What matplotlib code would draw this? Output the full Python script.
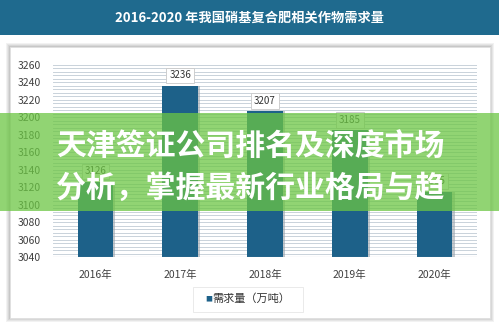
import matplotlib
matplotlib.use("Agg")
import matplotlib.pyplot as plt
from matplotlib.patches import Rectangle
import numpy as np

plt.rcParams['font.family'] = ['Noto Sans CJK SC', 'DejaVu Sans']

# data
years = ["2016年", "2017年", "2018年", "2019年", "2020年"]
demand = [3126, 3236, 3207, 3185, 3115]
yticks = [3040, 3060, 3080, 3100, 3120, 3140, 3160, 3180, 3200, 3220, 3240, 3260]
title = "2016-2020 年我国硝基复合肥相关作物需求量"
legend_label = "需求量（万吨）"
banner_lines = ["天津签证公司排名及深度市场", "分析，掌握最新行业格局与趋"]

BAR = "#1d6189"
W, H = 499, 324

fig = plt.figure(figsize=(W / 100, H / 100), dpi=100)
fig.patch.set_facecolor("white")

def fx(px):
    return px / W

def fy(py):
    return 1 - py / H

# title banner
fig.patches.append(Rectangle((0, fy(35)), 1, fy(0) - fy(35), transform=fig.transFigure,
                             facecolor="#1f6a8e", edgecolor="none", zorder=0))
fig.text(0.5, fy(18), title, color="white", fontsize=9.5, fontweight="bold",
         ha="center", va="center")

# card with soft shadow
for i, a in enumerate([0.05, 0.05, 0.06, 0.07]):
    d = 4 - i
    fig.patches.append(Rectangle((fx(10 - d), fy(318 + d)), fx(480 + 2 * d), fy(47 - d) - fy(318 + d),
                                 transform=fig.transFigure, facecolor="black", alpha=a,
                                 edgecolor="none", zorder=0.5))
fig.patches.append(Rectangle((fx(10), fy(318)), fx(480), fy(47) - fy(318), transform=fig.transFigure,
                             facecolor="white", edgecolor="#e0e0e0", lw=0.6, zorder=0.6))

ax = fig.add_axes([fx(53), fy(257), fx(477 - 53), fy(65) - fy(257)])
ax.set_facecolor("none")
ax.set_zorder(1)

x = np.arange(len(years))
# dense striped gridlines
for v in np.arange(3040, 3261, 4):
    ax.axhline(v, color="#c9d2da", lw=0.7, zorder=0)

# bar shadow
ax.bar(x + 0.025, [d - 3040 for d in demand], bottom=3040, width=0.42,
       color="#9aa4ad", alpha=0.6, zorder=1)
ax.bar(x, [d - 3040 for d in demand], bottom=3040, width=0.42, color=BAR,
       zorder=2, label=legend_label)

for xi, d in zip(x, demand):
    ax.text(xi, d + 12, str(d), ha="center", va="center", fontsize=7, color="#333333",
            zorder=3, bbox=dict(boxstyle="square,pad=0.3", facecolor="white",
                                edgecolor="#c8c8c8", lw=0.6))

ax.set_xlim(-0.5, len(years) - 0.5)
ax.set_ylim(3040, 3260)
ax.set_yticks(yticks)
ax.set_xticks(x)
ax.set_xticklabels(years)
ax.tick_params(axis="y", length=0, labelsize=7.5, labelcolor="#404040", pad=9)
ax.tick_params(axis="x", length=0, labelsize=7.5, labelcolor="#404040", pad=9)
for s in ax.spines.values():
    s.set_visible(False)
ax.axhline(3040, color="#a8b0b8", lw=0.8, zorder=2)

# legend box
fig.patches.append(Rectangle((fx(193), fy(312)), fx(110), fy(287) - fy(312), transform=fig.transFigure,
                             facecolor="white", edgecolor="#e6e6e6", lw=0.6, zorder=2))
fig.text(fx(205), fy(299), "■", color=BAR, fontsize=5, ha="left", va="center", zorder=3)
fig.text(fx(212), fy(299), legend_label, color="#333333", fontsize=8, ha="left", va="center", zorder=3)

# green overlay banner
fig.patches.append(Rectangle((0, fy(211)), 1, fy(113) - fy(211), transform=fig.transFigure,
                             facecolor="#6cc644", alpha=0.75, edgecolor="none", zorder=10))
fig.text(fx(56), fy(146), banner_lines[0], color="white", fontsize=21.5, fontweight="black",
         ha="left", va="center", zorder=11)
fig.text(fx(56), fy(188), banner_lines[1], color="white", fontsize=21.5, fontweight="black",
         ha="left", va="center", zorder=11)

fig.savefig("out.png", dpi=100)
